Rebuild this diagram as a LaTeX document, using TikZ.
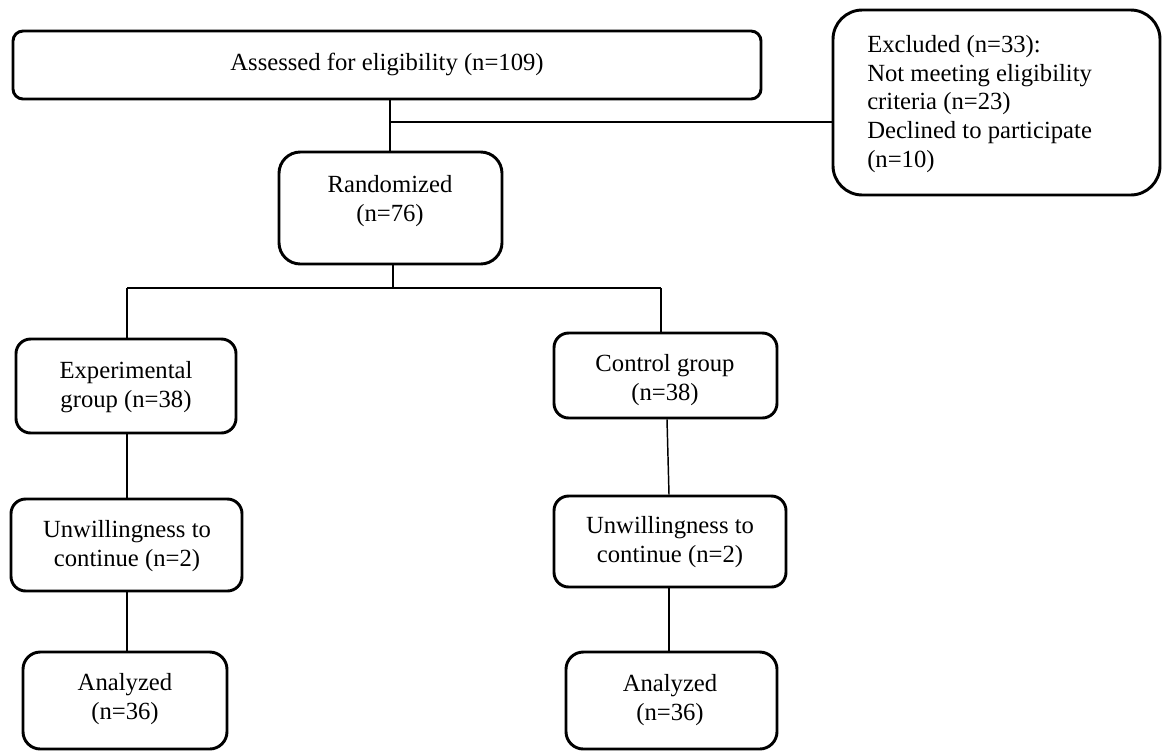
\documentclass[tikz,border=0pt]{standalone}
\usepackage{fontspec}
\setmainfont{Liberation Serif}
\begin{document}
\begin{tikzpicture}[x=0.75pt,y=-0.75pt,
  box/.style={draw, line width=2.2pt, rounded corners=#1, inner sep=0pt},
  box/.default=11pt,
  txt/.style={font=\fontsize{18.5pt}{21.5pt}\selectfont, align=center, inner sep=0pt, anchor=base},
  conn/.style={line width=1.1pt},
  bold conn/.style={line width=1.7pt}]
\useasboundingbox (0,0) rectangle (1162,751);
% boxes
\node[box=7.5pt, minimum width={748*0.75pt}, minimum height={68*0.75pt}] (assess) at (387,65) {};
\node[box=22pt, minimum width={327*0.75pt}, minimum height={185*0.75pt}] (excl) at (996.5,102.5) {};
\node[box=16pt, minimum width={223*0.75pt}, minimum height={112*0.75pt}] (rand) at (390.5,208) {};
\node[box=11pt, minimum width={220*0.75pt}, minimum height={94*0.75pt}] (exp) at (126,386) {};
\node[box=11pt, minimum width={223*0.75pt}, minimum height={85*0.75pt}] (ctrl) at (665.5,375.5) {};
\node[box=11pt, minimum width={231*0.75pt}, minimum height={92*0.75pt}] (unwL) at (126.5,545) {};
\node[box=11pt, minimum width={232*0.75pt}, minimum height={91*0.75pt}] (unwR) at (670,541.5) {};
\node[box=13pt, minimum width={204*0.75pt}, minimum height={97*0.75pt}] (anaL) at (125,700.5) {};
\node[box=13pt, minimum width={211*0.75pt}, minimum height={97*0.75pt}] (anaR) at (671.5,700.5) {};
% texts (anchor = baseline of the last line)
\node[txt] (assessT) at (387,70) {Assessed for eligibility (n=109)};
\node[txt, anchor=base west, align=left] (exclT) at (867,167) {Excluded (n=33):\\Not meeting eligibility\\criteria (n=23)\\Declined to participate\\(n=10)};
\node[txt] (randT) at (390,221) {Randomized\\(n=76)};
\node[txt] (expT) at (126,407) {Experimental\\group (n=38)};
\node[txt] (ctrlT) at (665,400) {Control group\\(n=38)};
\node[txt] (unwLT) at (127,566) {Unwillingness to\\continue (n=2)};
\node[txt] (unwRT) at (670,562) {Unwillingness to\\continue (n=2)};
\node[txt] (anaLT) at (125,719) {Analyzed\\(n=36)};
\node[txt] (anaRT) at (670,720) {Analyzed\\(n=36)};
% junctions
\coordinate (j1) at (390,122);
\coordinate (j2) at (393,288);
\coordinate (jl) at (127,288);
\coordinate (jr) at (661,288);
\coordinate (jr2) at (667,418);
\coordinate (jr3) at (669,496);
% connectors
\draw[bold conn] (assess.south -| j1) -- (rand.north -| j1);
\draw[bold conn] (j1) -- (excl.west |- j1);
\draw[conn] (rand.south -| j2) -- (j2);
\draw[conn] (jl) -- (jr);
\draw[conn] (jl) -- (exp.north -| jl);
\draw[conn] (jr) -- (ctrl.north -| jr);
\draw[conn] (exp.south -| jl) -- (unwL.north -| jl);
\draw[conn] (unwL.south -| jl) -- (anaL.north -| jl);
\draw[conn] (ctrl.south -| jr2) -- (unwR.north -| jr3);
\draw[conn] (unwR.south -| jr3) -- (anaR.north -| jr3);
\end{tikzpicture}
\end{document}
